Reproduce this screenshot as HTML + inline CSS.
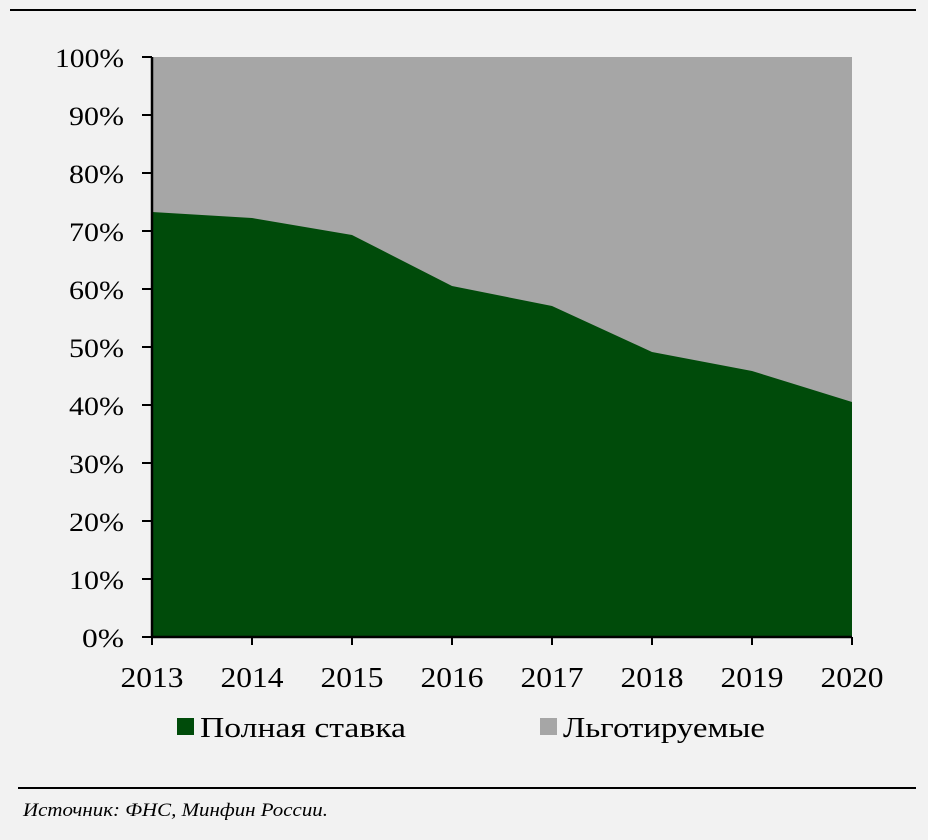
<!DOCTYPE html>
<html><head><meta charset="utf-8"><style>
body{margin:0;background:#f2f2f2;}
svg{display:block;font-family:"Liberation Serif","DejaVu Serif",serif;}
</style></head><body>
<svg width="928" height="840" viewBox="0 0 928 840">
<rect width="928" height="840" fill="#f2f2f2"/>
<line x1="10" y1="10" x2="916" y2="10" stroke="#000" stroke-width="2"/>
<rect x="152" y="57" width="700" height="580" fill="#a6a6a6"/>
<polygon fill="#004b0a" points="152,212 252,218 352,235 452,286 552,306 652,352 752,371 852,402 852,637 152,637"/>
<g stroke="#000" stroke-width="2.5">
<line x1="152" y1="57" x2="152" y2="638"/>
<line x1="151" y1="637" x2="852" y2="637"/>
</g>
<g stroke="#000" stroke-width="2">
<line x1="142" y1="57" x2="152" y2="57"/><line x1="142" y1="115" x2="152" y2="115"/><line x1="142" y1="173" x2="152" y2="173"/><line x1="142" y1="231" x2="152" y2="231"/><line x1="142" y1="289" x2="152" y2="289"/><line x1="142" y1="347" x2="152" y2="347"/><line x1="142" y1="405" x2="152" y2="405"/><line x1="142" y1="463" x2="152" y2="463"/><line x1="142" y1="521" x2="152" y2="521"/><line x1="142" y1="579" x2="152" y2="579"/><line x1="142" y1="637" x2="152" y2="637"/>
<line x1="152" y1="637" x2="152" y2="645"/><line x1="252" y1="637" x2="252" y2="645"/><line x1="352" y1="637" x2="352" y2="645"/><line x1="452" y1="637" x2="452" y2="645"/><line x1="552" y1="637" x2="552" y2="645"/><line x1="652" y1="637" x2="652" y2="645"/><line x1="752" y1="637" x2="752" y2="645"/><line x1="852" y1="637" x2="852" y2="645"/>
</g>
<g font-size="26" text-anchor="end" fill="#000">
<text x="124" y="67" textLength="69" lengthAdjust="spacingAndGlyphs">100%</text><text x="124" y="125" textLength="55" lengthAdjust="spacingAndGlyphs">90%</text><text x="124" y="183" textLength="55" lengthAdjust="spacingAndGlyphs">80%</text><text x="124" y="241" textLength="55" lengthAdjust="spacingAndGlyphs">70%</text><text x="124" y="299" textLength="55" lengthAdjust="spacingAndGlyphs">60%</text><text x="124" y="357" textLength="55" lengthAdjust="spacingAndGlyphs">50%</text><text x="124" y="415" textLength="55" lengthAdjust="spacingAndGlyphs">40%</text><text x="124" y="473" textLength="55" lengthAdjust="spacingAndGlyphs">30%</text><text x="124" y="531" textLength="55" lengthAdjust="spacingAndGlyphs">20%</text><text x="124" y="589" textLength="55" lengthAdjust="spacingAndGlyphs">10%</text><text x="124" y="647" textLength="42" lengthAdjust="spacingAndGlyphs">0%</text>
</g>
<g font-size="28" text-anchor="middle" fill="#000">
<text x="152" y="687" textLength="63" lengthAdjust="spacingAndGlyphs">2013</text><text x="252" y="687" textLength="63" lengthAdjust="spacingAndGlyphs">2014</text><text x="352" y="687" textLength="63" lengthAdjust="spacingAndGlyphs">2015</text><text x="452" y="687" textLength="63" lengthAdjust="spacingAndGlyphs">2016</text><text x="552" y="687" textLength="63" lengthAdjust="spacingAndGlyphs">2017</text><text x="652" y="687" textLength="63" lengthAdjust="spacingAndGlyphs">2018</text><text x="752" y="687" textLength="63" lengthAdjust="spacingAndGlyphs">2019</text><text x="852" y="687" textLength="63" lengthAdjust="spacingAndGlyphs">2020</text>
</g>
<rect x="177" y="718" width="17" height="17" fill="#004b0a"/>
<text x="200" y="737" font-size="28" textLength="206" lengthAdjust="spacingAndGlyphs">Полная ставка</text>
<rect x="540" y="718" width="17" height="17" fill="#a6a6a6"/>
<text x="563" y="737" font-size="28" textLength="202" lengthAdjust="spacingAndGlyphs">Льготируемые</text>
<line x1="18" y1="788" x2="916" y2="788" stroke="#000" stroke-width="2"/>
<text x="23" y="816" font-size="19" font-style="italic" textLength="305" lengthAdjust="spacingAndGlyphs">Источник: ФНС, Минфин России.</text>
</svg>
</body></html>
